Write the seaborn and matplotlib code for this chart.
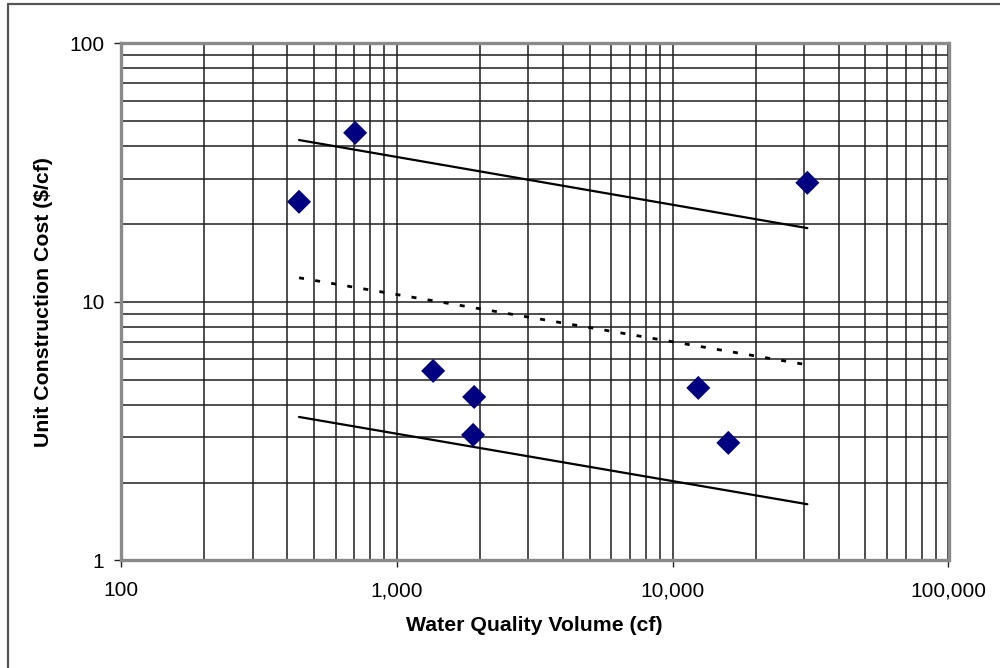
import matplotlib
matplotlib.use("Agg")
import matplotlib.pyplot as plt
import matplotlib.ticker as mticker
from matplotlib.lines import Line2D
import seaborn as sns
import pandas as pd

# Observed projects: water quality volume (cf) vs unit construction cost ($/cf)
volume_cf = [442, 706, 1354, 1907, 1890, 12385, 15910, 30780]
unit_cost = [24.4, 45.1, 5.41, 4.29, 3.06, 4.65, 2.85, 28.9]

# Fitted cost curve and its upper / lower bounds (end points)
fit_x = [442, 30780]
fit_y = [12.4, 5.71]
upper_y = [42.3, 19.3]
lower_y = [3.59, 1.65]

x_ticks = [100, 1000, 10000, 100000]
x_tick_labels = ["100", "1,000", "10,000", "100,000"]
y_ticks = [1, 10, 100]
y_tick_labels = ["1", "10", "100"]

sns.set_theme(style="white")
plt.rcParams["font.family"] = ["Liberation Sans", "DejaVu Sans"]

fig = plt.figure(figsize=(10, 6.68), dpi=100)
ax = fig.add_axes([0.121, 0.161, 0.8275, 0.774])
ax.set_xscale("log")
ax.set_yscale("log")
ax.set_xlim(100, 100000)
ax.set_ylim(1, 100)

# Full log grid, major and minor
ax.grid(True, which="both", color="#1e1e1e", linewidth=1.1)
ax.xaxis.set_minor_locator(mticker.LogLocator(base=10, subs=range(2, 10)))
ax.yaxis.set_minor_locator(mticker.LogLocator(base=10, subs=range(2, 10)))

pts = pd.DataFrame({"volume": volume_cf, "cost": unit_cost})
sns.scatterplot(data=pts, x="volume", y="cost", marker="D", s=150,
                color="#000080", edgecolor="none", linewidth=0, ax=ax, zorder=5)

band = pd.DataFrame({"x": fit_x + fit_x, "y": upper_y + lower_y,
                     "grp": ["upper", "upper", "lower", "lower"]})
for g in ["upper", "lower"]:
    d = band[band["grp"] == g]
    sns.lineplot(data=d, x="x", y="y", color="black", linewidth=1.6,
                 estimator=None, ax=ax, zorder=4)

fit = pd.DataFrame({"x": fit_x, "y": fit_y})
sns.lineplot(data=fit, x="x", y="y", color="black", linewidth=2.0,
             estimator=None, ax=ax, zorder=4, dashes=False)
ax.lines[-1].set_dashes([1.8, 4.07])

ax.set_xticks(x_ticks)
ax.set_xticklabels(x_tick_labels)
ax.set_yticks(y_ticks)
ax.set_yticklabels(y_tick_labels)
ax.xaxis.set_minor_formatter(mticker.NullFormatter())
ax.yaxis.set_minor_formatter(mticker.NullFormatter())

ax.tick_params(axis="both", which="major", direction="out", length=5,
               width=1.0, color="#222222", labelsize=15, labelcolor="black",
               bottom=True, left=True)
ax.tick_params(axis="x", which="major", pad=10)
ax.tick_params(axis="y", which="major", pad=7)
ax.tick_params(axis="both", which="minor", length=0)

for side, sp in ax.spines.items():
    sp.set_visible(True)
    sp.set_color("#8a8a8a")
    sp.set_linewidth(2.4)

ax.set_xlabel("Water Quality Volume (cf)", fontsize=15.3, fontweight="bold",
              color="black", labelpad=11)
ax.set_ylabel("Unit Construction Cost ($/cf)", fontsize=15.3, fontweight="bold",
              color="black", labelpad=12)

# Frame line along the top and left of the figure
fig.add_artist(Line2D([0.008, 1.0], [1 - 4 / 668, 1 - 4 / 668],
                      transform=fig.transFigure, color="#555555", linewidth=1.6))
fig.add_artist(Line2D([0.008, 0.008], [0.0, 1 - 4 / 668],
                      transform=fig.transFigure, color="#555555", linewidth=1.6))

fig.savefig("out.png", dpi=100)
